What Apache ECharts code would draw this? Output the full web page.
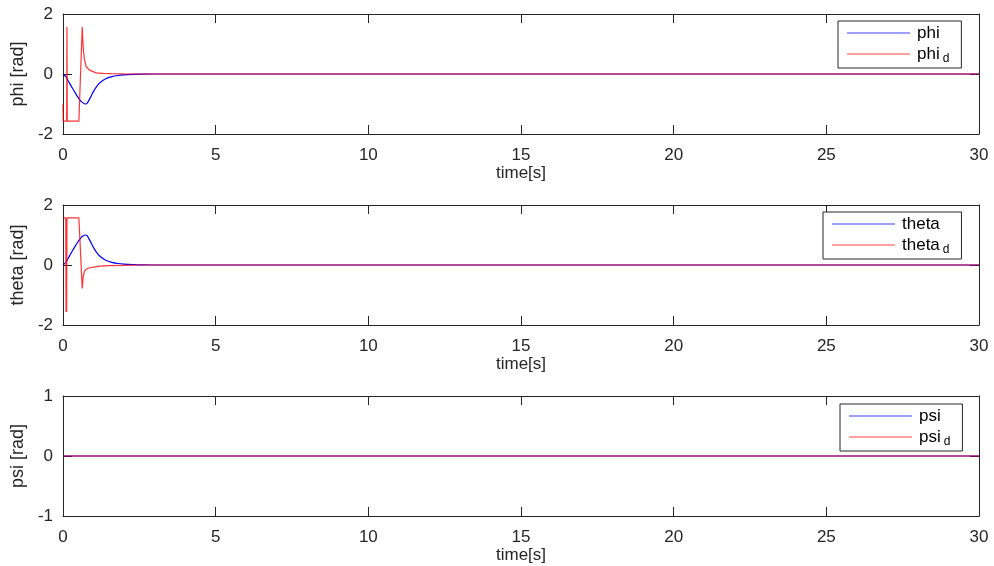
<!DOCTYPE html>
<html>
<head>
<meta charset="utf-8">
<script src="https://cdn.jsdelivr.net/npm/echarts@6/dist/echarts.min.js"></script>
<style>html,body{margin:0;padding:0;background:#fff}#c{width:994px;height:566px}</style>
</head>
<body>
<div id="c"></div>
<script>
// ---- data ----
const xTicks = [0, 5, 10, 15, 20, 25, 30];
const yTicks12 = [-2, 0, 2];
const yTicks3 = [-1, 0, 1];

const phiT = [0, 0.1, 0.2, 0.3, 0.4, 0.5, 0.6, 0.7, 0.75, 0.8, 0.9, 1.0, 1.1, 1.2, 1.4, 1.6, 1.8, 2.0, 2.3, 2.6, 3.0, 30];
const phiV = [0, -0.1, -0.28, -0.46, -0.63, -0.79, -0.92, -0.99, -1.0, -0.96, -0.78, -0.58, -0.42, -0.3, -0.16, -0.09, -0.05, -0.03, -0.015, -0.005, 0, 0];
const phiDT = [0, 0.005, 0.12, 0.13, 0.14, 0.52, 0.63, 0.66, 0.7, 0.76, 0.87, 1.0, 1.1, 1.3, 1.6, 2.0, 2.5, 30];
const phiDV = [-1.0, -1.57, -1.57, 1.57, -1.57, -1.57, 1.57, 0.9, 0.5, 0.24, 0.13, 0.07, 0.04, 0.02, 0.01, 0.004, 0, 0];

const thetaT = [0, 0.1, 0.2, 0.3, 0.4, 0.5, 0.6, 0.7, 0.75, 0.8, 0.9, 1.0, 1.1, 1.2, 1.4, 1.6, 1.8, 2.0, 2.3, 2.6, 3.0, 30];
const thetaV = [0, 0.1, 0.28, 0.46, 0.63, 0.79, 0.92, 0.99, 1.0, 0.96, 0.78, 0.58, 0.42, 0.3, 0.16, 0.09, 0.05, 0.03, 0.015, 0.005, 0, 0];
const thetaDT = [0, 0.09, 0.1, 0.11, 0.12, 0.13, 0.52, 0.63, 0.66, 0.7, 0.76, 0.85, 1.0, 1.2, 1.5, 2.0, 2.5, 30];
const thetaDV = [1.57, 1.57, -1.57, 1.57, -1.57, 1.57, 1.57, -0.78, -0.4, -0.22, -0.14, -0.1, -0.07, -0.04, -0.02, -0.01, 0, 0];

const psiT = [0, 30];
const psiV = [0, 0];
const psiDT = [0, 30];
const psiDV = [0, 0];

const panels = [
  { names: ['phi', 'phi_d'], yLabel: 'phi [rad]', yTicks: yTicks12, series: [[phiT, phiV], [phiDT, phiDV]] },
  { names: ['theta', 'theta_d'], yLabel: 'theta [rad]', yTicks: yTicks12, series: [[thetaT, thetaV], [thetaDT, thetaDV]] },
  { names: ['psi', 'psi_d'], yLabel: 'psi [rad]', yTicks: yTicks3, series: [[psiT, psiV], [psiDT, psiDV]] }
];

// ---- layout / style ----
const gridTops = [14, 205, 396];
const legendPos = [{ left: 838, top: 21 }, { left: 823, top: 212 }, { left: 840, top: 404 }];
const FONT = 'Liberation Sans, Arial, Helvetica, sans-serif';
const AX = '#262626';
const colors = ['#0000ff', 'rgba(255,0,0,0.8)'];
const legendColors = ['#7f7fff', '#ff7f7f'];

const pair = (t, v) => t.map((x, i) => [x, v[i]]);

const option = {
  animation: false,
  backgroundColor: '#fff',
  textStyle: { fontFamily: FONT },
  grid: [], xAxis: [], yAxis: [], series: [], legend: []
};

panels.forEach((p, k) => {
  option.grid.push({ left: 63, width: 916, top: gridTops[k], height: 120, show: false });
  const yInt = p.yTicks[1] - p.yTicks[0];
  const yMin = p.yTicks[0], yMax = p.yTicks[p.yTicks.length - 1];
  option.xAxis.push({
    type: 'value', gridIndex: k, min: xTicks[0], max: xTicks[xTicks.length - 1], interval: 5,
    name: 'time[s]', nameLocation: 'middle', nameGap: 28,
    nameTextStyle: { fontFamily: FONT, fontSize: 17, color: AX },
    axisLine: { show: true, onZero: false, lineStyle: { color: AX, width: 1 } },
    axisTick: { show: true, inside: true, length: 9, lineStyle: { color: AX } },
    axisLabel: { fontFamily: FONT, fontSize: 17, color: AX, margin: 13 },
    splitLine: { show: false }
  });
  option.xAxis.push({
    type: 'value', gridIndex: k, position: 'top', min: xTicks[0], max: xTicks[xTicks.length - 1], interval: 5,
    axisLine: { show: true, onZero: false, lineStyle: { color: AX, width: 1 } },
    axisTick: { show: true, inside: true, length: 9, lineStyle: { color: AX } },
    axisLabel: { show: false }, splitLine: { show: false }
  });
  option.yAxis.push({
    type: 'value', gridIndex: k, min: yMin, max: yMax, interval: yInt,
    name: p.yLabel, nameLocation: 'middle', nameGap: 36,
    nameTextStyle: { fontFamily: FONT, fontSize: 18, color: AX },
    axisLine: { show: true, onZero: false, lineStyle: { color: AX, width: 1 } },
    axisTick: { show: true, inside: true, length: 9, lineStyle: { color: AX } },
    axisLabel: { fontFamily: FONT, fontSize: 17, color: AX, margin: 10 },
    splitLine: { show: false }
  });
  option.yAxis.push({
    type: 'value', gridIndex: k, position: 'right', min: yMin, max: yMax, interval: yInt,
    axisLine: { show: true, onZero: false, lineStyle: { color: AX, width: 1 } },
    axisTick: { show: true, inside: true, length: 9, lineStyle: { color: AX } },
    axisLabel: { show: false }, splitLine: { show: false }
  });
  p.series.forEach((s, j) => {
    option.series.push({
      type: 'line', name: p.names[j], xAxisIndex: 2 * k, yAxisIndex: 2 * k,
      data: pair(s[0], s[1]), showSymbol: false, symbol: 'none',
      smooth: j === 0 ? 0.3 : false,
      color: colors[j],
      lineStyle: { color: colors[j], width: 1.2 },
      z: 2 + j
    });
  });
  option.legend.push({
    data: p.names.map((n, j) => ({ name: n, icon: 'rect', itemStyle: { color: legendColors[j] } })),
    orient: 'vertical', left: legendPos[k].left, top: legendPos[k].top,
    backgroundColor: '#fff', borderColor: AX, borderWidth: 1, borderRadius: 0,
    padding: [3, 12, 3, 9], itemGap: 3, itemWidth: 63, itemHeight: 1.5,
    selectedMode: false,
    formatter: n => n.endsWith('_d') ? '{n|' + n.slice(0, -2) + '}{s|d}' : '{n|' + n + '}',
    textStyle: {
      fontFamily: FONT, color: '#000', padding: [0, 0, 0, 2],
      rich: {
        n: { fontFamily: FONT, fontSize: 17, color: '#000', height: 18, lineHeight: 18 },
        s: { fontFamily: FONT, fontSize: 12, color: '#000', padding: [10, 0, 0, 3] }
      }
    }
  });
});

const chart = echarts.init(document.getElementById('c'), null, { renderer: 'canvas' });
chart.setOption(option);
</script>
</body>
</html>
